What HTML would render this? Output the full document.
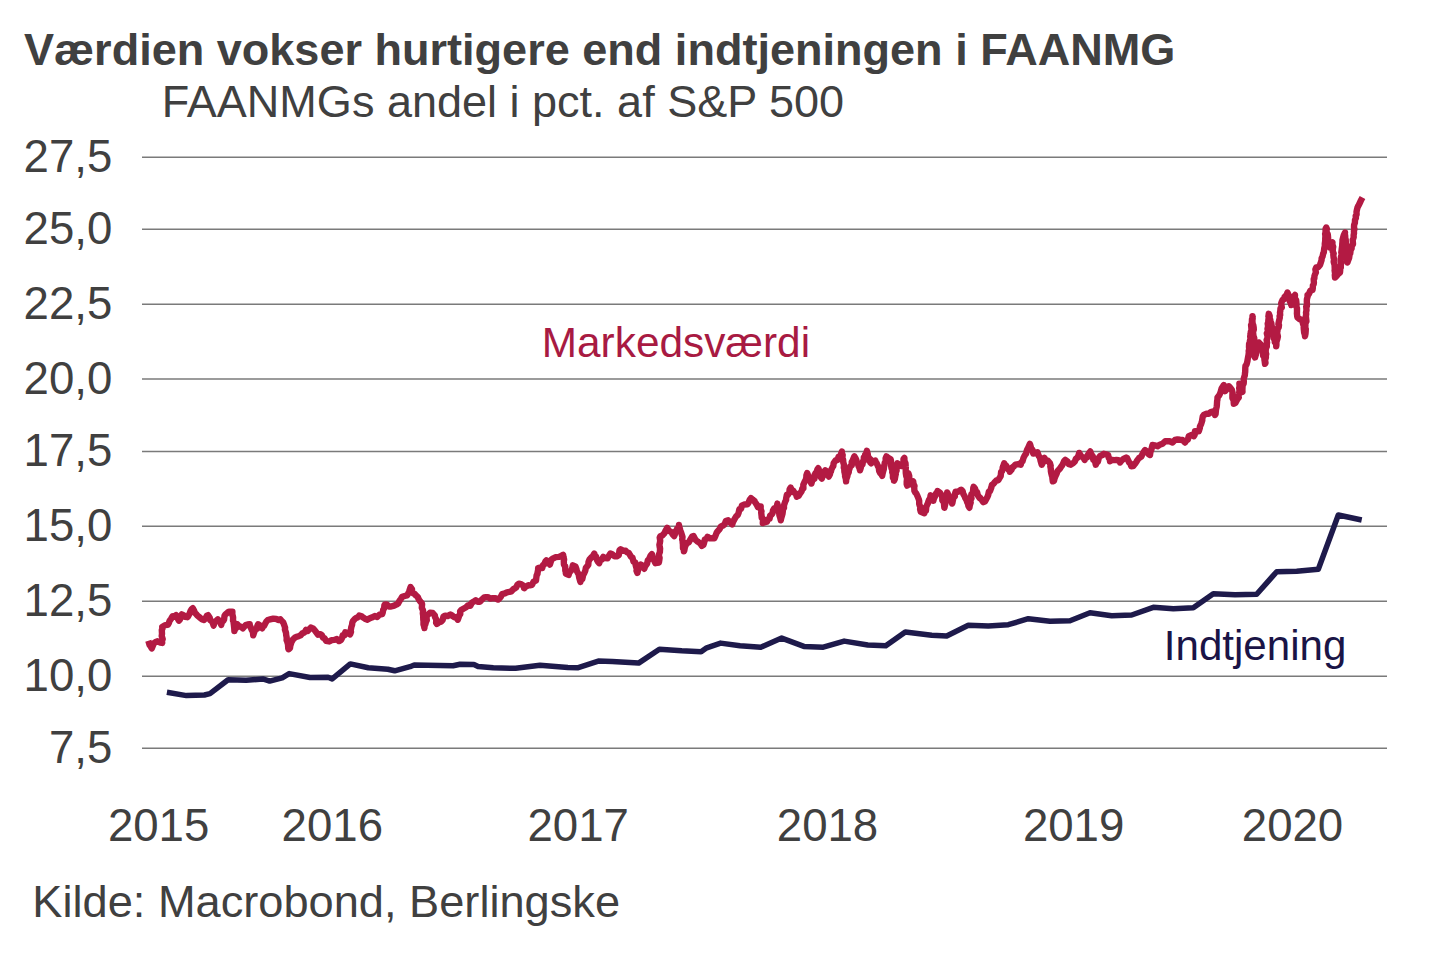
<!DOCTYPE html>
<html><head><meta charset="utf-8"><style>
html,body{margin:0;padding:0;background:#fff;}
svg{display:block;}
text{font-family:"Liberation Sans", sans-serif;}
</style></head><body>
<svg width="1440" height="960" viewBox="0 0 1440 960">
<rect width="1440" height="960" fill="#ffffff"/>
<text x="24" y="65.1" font-size="45.06" font-weight="bold" fill="#404040">Værdien vokser hurtigere end indtjeningen i FAANMG</text>
<text x="161.8" y="116.8" font-size="45.03" fill="#404040">FAANMGs andel i pct. af S&amp;P 500</text>
<g stroke="#7a7a7a" stroke-width="1.5">
<line x1="142" y1="157.3" x2="1387" y2="157.3" />
<line x1="142" y1="229.3" x2="1387" y2="229.3" />
<line x1="142" y1="304.3" x2="1387" y2="304.3" />
<line x1="142" y1="379.0" x2="1387" y2="379.0" />
<line x1="142" y1="451.5" x2="1387" y2="451.5" />
<line x1="142" y1="526.3" x2="1387" y2="526.3" />
<line x1="142" y1="601.3" x2="1387" y2="601.3" />
<line x1="142" y1="676.3" x2="1387" y2="676.3" />
<line x1="142" y1="748.3" x2="1387" y2="748.3" />
</g>
<g font-size="45.6" fill="#404040">
<text x="112.3" y="171.9" text-anchor="end">27,5</text>
<text x="112.3" y="243.9" text-anchor="end">25,0</text>
<text x="112.3" y="318.9" text-anchor="end">22,5</text>
<text x="112.3" y="393.6" text-anchor="end">20,0</text>
<text x="112.3" y="466.1" text-anchor="end">17,5</text>
<text x="112.3" y="540.9" text-anchor="end">15,0</text>
<text x="112.3" y="615.9" text-anchor="end">12,5</text>
<text x="112.3" y="690.9" text-anchor="end">10,0</text>
<text x="112.3" y="762.9" text-anchor="end">7,5</text>
<text x="158.6" y="841" text-anchor="middle">2015</text>
<text x="332.3" y="841" text-anchor="middle">2016</text>
<text x="578.2" y="841" text-anchor="middle">2017</text>
<text x="827.5" y="841" text-anchor="middle">2018</text>
<text x="1073.6" y="841" text-anchor="middle">2019</text>
<text x="1292.5" y="841" text-anchor="middle">2020</text>
</g>
<text x="32.3" y="916.5" font-size="45.2" fill="#404040">Kilde: Macrobond, Berlingske</text>
<path d="M166.9,692.2 L186.4,695.6 L204.4,695.0 L210.0,693.6 L228.1,679.7 L246.1,680.3 L262.8,678.9 L269.7,681.1 L282.2,677.8 L289.2,673.6 L310.0,677.5 L328.1,677.2 L332.2,678.9 L350.3,663.9 L368.3,667.8 L387.8,669.2 L394.7,670.8 L410.0,666.7 L414.2,665.0 L453.1,665.8 L460.0,664.2 L473.9,664.4 L478.1,666.4 L493.3,667.8 L515.6,668.3 L540.0,665.3 L567.8,667.5 L577.5,667.8 L598.3,661.1 L612.2,661.4 L638.6,663.1 L659.4,649.2 L681.7,650.8 L701.1,651.7 L706.7,647.8 L720.6,643.1 L740.0,645.8 L760.8,647.2 L781.7,638.1 L803.9,646.4 L823.3,647.2 L844.2,641.1 L867.8,645.0 L885.8,645.8 L905.3,631.9 L931.7,635.3 L946.7,636.0 L968.3,625.3 L988.3,626.0 L1008.3,624.7 L1028.3,618.7 L1050.0,621.3 L1070.0,620.7 L1090.0,612.7 L1111.7,615.7 L1131.7,615.0 L1153.3,607.3 L1173.3,608.7 L1193.3,607.7 L1213.3,593.7 L1235.0,594.7 L1256.7,594.3 L1276.7,571.7 L1296.7,571.3 L1318.3,569.3 L1338.3,515.0 L1361.7,520.0" fill="none" stroke="#1e1a4b" stroke-width="5.5" stroke-linejoin="round" stroke-linecap="butt"/>
<path d="M148.3,640.8 L148.8,642.3 L149.6,645.0 L150.8,646.7 L151.8,648.5 L153.0,645.3 L154.1,643.1 L155.3,642.2 L157.2,641.3 L160.2,642.5 L162.2,642.9 L161.9,639.9 L162.7,639.2 L162.1,637.1 L161.7,636.1 L162.0,633.8 L161.8,630.0 L162.5,628.4 L162.2,626.9 L165.1,625.1 L167.8,624.9 L168.8,623.2 L169.6,620.8 L171.2,618.6 L172.5,616.3 L174.4,616.7 L176.1,615.1 L177.1,616.5 L177.8,618.7 L178.9,620.7 L180.0,619.4 L180.8,615.8 L181.7,614.4 L183.9,615.4 L185.1,616.9 L187.2,617.2 L187.9,616.6 L189.7,613.4 L190.5,610.9 L191.9,608.8 L192.8,608.2 L194.1,610.8 L195.0,613.0 L196.5,614.4 L197.6,615.8 L199.7,617.4 L202.3,619.5 L203.9,620.0 L205.5,618.3 L206.9,615.6 L208.1,615.1 L209.7,617.6 L210.1,620.1 L211.6,621.1 L212.5,622.3 L213.6,625.6 L214.6,622.6 L216.7,620.3 L217.8,619.3 L218.7,620.2 L220.5,622.7 L221.2,624.9 L222.0,621.7 L223.3,620.8 L224.1,619.4 L224.5,615.9 L225.4,614.4 L227.5,612.7 L228.9,611.7 L232.4,611.7 L232.3,615.0 L232.6,615.2 L233.1,617.5 L233.0,620.6 L233.4,621.2 L233.8,624.3 L234.2,628.0 L234.3,629.0 L234.4,631.1 L234.9,629.3 L236.6,627.5 L237.2,624.2 L239.4,626.5 L240.8,626.7 L242.8,628.3 L244.7,626.2 L245.8,625.1 L247.6,624.5 L249.7,624.2 L249.9,626.0 L250.7,627.3 L251.7,629.8 L252.9,631.8 L253.2,635.3 L253.7,633.7 L254.7,631.0 L255.3,629.4 L257.0,628.8 L257.3,626.0 L258.1,624.2 L259.7,625.2 L262.2,628.3 L263.1,626.2 L264.1,625.8 L266.0,622.1 L266.3,621.7 L267.8,620.0 L270.1,619.4 L273.3,618.6 L276.1,618.9 L278.2,620.0 L280.3,619.3 L281.5,620.8 L283.3,622.6 L284.4,625.6 L285.1,627.8 L284.9,629.4 L286.0,632.8 L286.2,635.1 L286.6,637.2 L286.7,637.8 L286.6,640.2 L287.2,641.5 L288.0,644.3 L288.2,648.2 L288.6,649.2 L290.0,648.0 L290.3,645.7 L291.4,642.2 L292.9,639.6 L294.8,637.7 L296.9,636.7 L299.2,635.9 L300.6,635.3 L302.5,633.2 L304.5,632.5 L306.0,629.9 L307.8,630.9 L309.1,629.4 L310.8,627.6 L313.0,628.4 L314.8,630.4 L316.4,632.5 L318.1,634.7 L320.5,634.1 L321.9,635.3 L323.0,637.7 L324.3,638.0 L326.1,640.8 L329.2,641.5 L331.7,640.1 L334.2,639.9 L336.8,639.0 L339.0,641.1 L341.1,639.9 L342.2,637.6 L342.7,635.1 L344.4,635.3 L345.3,632.2 L348.2,633.3 L350.1,634.3 L351.0,631.9 L350.7,630.7 L351.3,627.1 L352.1,624.8 L352.3,622.7 L352.9,621.1 L354.9,618.8 L356.0,618.0 L358.0,617.2 L359.2,615.6 L361.7,616.4 L363.4,617.7 L364.9,618.7 L367.5,619.7 L369.3,618.5 L371.7,617.6 L374.8,616.0 L377.2,616.9 L379.6,614.7 L382.1,614.2 L382.7,612.8 L383.2,609.8 L384.1,608.5 L384.4,605.3 L384.9,604.4 L386.7,604.4 L389.0,606.5 L391.1,606.5 L394.2,605.6 L396.7,604.4 L398.0,603.6 L399.5,600.9 L401.0,598.7 L402.2,596.8 L404.7,596.0 L407.1,595.4 L408.4,593.3 L409.2,591.8 L409.5,590.3 L410.6,587.1 L412.0,589.3 L412.0,592.1 L413.3,593.3 L414.6,593.9 L415.8,595.3 L417.7,596.9 L418.9,599.6 L420.7,602.1 L421.7,603.1 L422.1,604.3 L421.8,607.7 L422.9,610.3 L423.1,610.7 L422.8,613.3 L423.4,616.9 L423.2,616.8 L423.3,619.8 L423.5,621.1 L423.5,624.5 L424.1,626.2 L424.4,628.1 L424.7,624.8 L425.3,624.3 L426.3,620.7 L426.8,620.5 L426.5,616.7 L427.2,615.6 L430.0,612.8 L432.7,613.0 L434.9,615.6 L435.0,617.1 L436.3,619.5 L436.1,622.7 L436.9,623.9 L439.4,621.9 L441.1,621.8 L442.7,619.9 L443.4,616.6 L445.3,615.6 L447.5,616.1 L450.4,614.5 L452.2,615.6 L454.4,617.3 L456.3,617.3 L457.8,619.7 L458.9,616.6 L459.0,615.7 L460.3,614.0 L460.1,611.3 L461.2,610.0 L463.4,608.7 L466.1,607.2 L467.8,605.5 L470.3,605.8 L471.8,602.8 L473.8,601.6 L475.8,600.3 L477.7,601.7 L480.0,601.7 L481.8,599.6 L484.2,597.5 L485.8,597.3 L487.8,597.2 L490.5,598.6 L492.5,598.2 L495.3,598.1 L498.1,599.6 L499.1,598.9 L500.8,596.7 L502.2,594.0 L504.9,593.3 L506.9,592.3 L509.2,591.9 L511.5,591.3 L513.2,589.2 L514.7,588.5 L516.2,587.4 L517.3,585.0 L518.9,583.6 L520.3,583.8 L522.8,585.3 L524.4,587.8 L524.2,588.2 L525.7,586.6 L528.2,585.3 L529.7,585.4 L532.0,584.8 L533.6,581.6 L536.0,580.6 L536.3,578.0 L536.6,575.5 L537.5,573.7 L537.4,573.5 L538.2,569.5 L538.1,568.1 L540.0,567.6 L542.2,568.1 L543.1,564.9 L544.3,564.2 L545.4,561.5 L546.4,560.4 L547.9,561.2 L549.9,564.6 L550.9,561.4 L551.7,559.2 L553.3,558.3 L555.8,557.1 L558.9,556.9 L561.0,556.1 L563.1,554.9 L563.6,557.6 L564.1,559.6 L563.8,560.8 L563.9,564.5 L564.7,565.9 L565.2,566.2 L565.3,570.5 L565.8,572.1 L565.8,573.6 L568.6,575.0 L569.5,572.1 L570.6,571.1 L571.5,570.0 L572.4,567.5 L572.8,565.3 L575.6,566.7 L576.5,569.3 L576.5,570.3 L577.5,572.3 L578.7,574.4 L579.2,577.7 L579.9,580.1 L580.4,581.9 L580.7,580.0 L582.3,579.0 L582.9,576.4 L583.2,574.9 L584.2,573.3 L585.3,570.8 L585.9,567.5 L586.6,567.0 L588.3,564.8 L588.5,561.9 L589.4,559.7 L591.2,557.6 L592.8,556.3 L594.3,553.5 L594.8,555.8 L596.0,556.5 L597.0,560.0 L597.7,561.4 L599.2,563.2 L600.3,560.0 L602.1,559.4 L603.3,556.9 L605.2,558.1 L607.5,558.3 L608.9,555.9 L610.3,553.5 L612.2,554.3 L614.6,556.3 L617.2,556.2 L618.8,555.1 L619.5,550.3 L620.7,549.3 L623.6,550.8 L625.6,550.7 L626.7,552.1 L628.8,553.0 L629.8,554.6 L631.1,556.9 L632.5,557.8 L633.5,561.8 L635.3,562.5 L635.7,565.4 L636.4,567.7 L637.0,568.0 L636.5,570.8 L637.4,572.9 L638.2,569.5 L638.9,568.6 L639.8,565.7 L640.8,564.6 L642.9,566.2 L644.3,568.8 L645.4,565.4 L645.7,565.5 L647.1,563.6 L647.8,560.4 L648.9,559.4 L650.4,555.9 L651.9,554.2 L652.9,557.7 L653.6,558.3 L654.1,560.4 L655.4,563.2 L658.9,562.5 L659.4,559.4 L659.6,557.9 L659.0,555.8 L659.0,554.4 L659.9,552.0 L659.9,551.3 L660.1,548.6 L659.8,547.4 L659.4,544.8 L659.9,542.8 L660.2,540.8 L659.7,537.6 L660.3,536.1 L662.0,535.8 L664.4,533.3 L665.2,531.4 L666.5,529.1 L667.2,527.8 L669.1,531.1 L671.4,531.9 L672.6,534.4 L674.2,536.1 L674.9,534.4 L675.4,531.5 L677.0,529.8 L677.1,528.7 L678.7,527.9 L679.0,525.0 L679.2,526.8 L679.7,528.1 L680.3,530.4 L681.0,532.1 L681.8,534.7 L682.5,537.0 L682.2,539.5 L682.6,540.7 L682.7,542.7 L682.9,544.0 L683.0,548.4 L683.8,549.3 L683.9,551.4 L684.3,550.3 L685.0,546.7 L685.9,544.9 L686.7,543.1 L688.8,542.5 L689.7,540.6 L692.1,536.6 L693.6,536.1 L695.0,539.0 L695.9,540.1 L697.8,541.7 L700.3,543.5 L701.9,545.8 L703.4,544.8 L703.9,543.4 L704.9,539.4 L706.6,538.7 L707.5,536.8 L710.0,538.4 L712.4,538.1 L714.4,538.2 L715.4,536.0 L716.6,532.8 L717.2,531.9 L719.0,529.7 L719.6,529.2 L720.9,526.4 L722.5,525.8 L724.6,524.3 L725.8,521.1 L728.1,520.3 L730.2,522.4 L732.2,524.4 L733.0,522.0 L733.8,520.5 L735.3,517.7 L736.4,516.1 L737.7,515.2 L738.6,512.9 L739.4,509.2 L741.0,509.0 L741.9,505.7 L744.2,504.5 L747.5,504.3 L748.8,502.2 L749.6,500.0 L751.0,498.1 L753.1,499.9 L754.4,500.8 L755.1,502.2 L756.7,504.6 L757.9,507.1 L760.7,506.4 L760.6,509.0 L761.5,511.3 L761.2,512.7 L761.6,516.0 L761.7,517.7 L762.5,518.2 L763.0,520.5 L762.8,523.1 L764.5,522.4 L766.9,521.7 L767.9,519.3 L769.6,518.8 L770.1,515.7 L771.9,514.2 L772.5,513.3 L773.0,510.4 L774.3,508.3 L775.8,508.5 L776.9,506.1 L777.4,503.6 L777.6,506.8 L778.7,507.0 L778.2,510.5 L779.0,512.4 L779.3,513.7 L779.4,515.3 L780.2,517.6 L780.8,520.3 L780.9,519.5 L781.4,517.5 L782.5,513.9 L782.6,513.1 L783.1,509.1 L784.0,507.9 L783.9,505.4 L784.0,505.2 L785.0,502.2 L786.1,499.9 L786.1,498.7 L786.9,494.7 L787.9,494.9 L789.4,492.4 L789.6,489.3 L790.6,487.6 L792.0,490.6 L793.3,490.6 L794.1,492.6 L795.8,493.6 L796.8,496.7 L798.6,495.9 L799.6,494.1 L801.7,491.1 L802.3,488.4 L803.4,488.3 L803.3,484.8 L804.1,482.9 L804.4,482.2 L805.6,479.9 L806.3,477.9 L806.4,475.4 L807.2,473.1 L807.9,474.7 L808.4,478.0 L810.0,478.6 L810.1,480.8 L811.4,483.5 L812.3,480.4 L813.6,479.2 L814.5,478.8 L814.4,475.2 L815.7,472.9 L816.5,472.6 L817.4,469.4 L818.3,468.2 L819.2,470.6 L820.1,473.0 L820.0,474.9 L820.9,477.4 L821.8,478.6 L822.5,476.7 L823.2,475.1 L824.2,471.7 L825.3,470.3 L826.9,471.5 L827.5,474.6 L828.8,476.5 L830.0,474.3 L829.9,472.7 L831.0,471.6 L831.1,470.2 L832.6,467.0 L833.3,466.1 L833.6,463.3 L835.5,460.4 L837.8,459.9 L838.5,456.8 L839.9,456.9 L840.7,454.7 L841.9,451.5 L842.1,454.4 L842.7,454.9 L842.3,458.6 L843.1,459.7 L843.2,460.7 L843.3,462.5 L844.0,464.8 L843.8,467.8 L844.2,468.2 L844.4,471.9 L844.7,472.9 L845.3,476.2 L845.1,476.3 L845.9,479.1 L846.1,481.4 L846.2,479.5 L847.4,476.1 L847.6,474.5 L848.8,472.0 L848.9,470.3 L849.8,467.8 L850.4,466.0 L851.8,465.3 L851.7,462.0 L852.5,461.0 L854.0,457.1 L854.4,456.4 L855.5,458.2 L856.4,460.1 L856.4,462.3 L857.7,463.1 L858.8,466.7 L859.3,467.2 L860.0,470.3 L860.7,468.0 L861.2,465.5 L862.5,464.5 L862.8,461.5 L863.9,461.3 L863.8,457.8 L865.3,457.8 L865.1,454.7 L866.1,453.9 L866.9,450.8 L867.7,453.9 L867.9,455.8 L868.7,457.8 L870.1,458.9 L870.1,462.1 L871.1,463.3 L873.1,461.2 L875.3,460.6 L876.0,462.5 L876.8,463.4 L878.3,466.9 L878.8,467.0 L879.1,470.8 L880.1,472.9 L881.4,474.2 L882.2,475.8 L882.5,474.0 L883.2,471.3 L883.8,469.1 L884.0,467.0 L884.7,463.8 L884.7,462.8 L885.8,461.4 L885.6,458.4 L886.4,456.4 L888.1,457.7 L890.6,459.2 L890.9,460.4 L891.2,462.4 L891.1,465.7 L891.5,468.2 L892.6,470.6 L892.2,472.1 L892.9,474.3 L892.9,477.6 L894.2,479.5 L894.0,480.7 L894.8,479.1 L895.4,475.6 L895.8,474.2 L895.4,473.1 L896.6,470.6 L896.5,466.5 L896.7,466.1 L897.5,463.3 L899.4,465.7 L901.7,466.1 L902.0,464.8 L903.5,462.0 L903.5,459.1 L904.4,457.8 L904.4,460.0 L904.5,460.9 L905.5,463.3 L905.7,466.8 L905.8,467.6 L905.7,469.6 L905.8,473.1 L906.2,475.9 L906.7,477.3 L907.1,478.2 L906.7,481.7 L906.7,484.2 L907.2,485.6 L907.5,484.8 L907.8,481.1 L907.4,479.2 L907.5,477.9 L907.9,476.0 L908.3,473.1 L909.2,475.7 L909.3,477.8 L909.0,479.3 L909.6,480.8 L910.4,484.2 L913.2,481.4 L913.5,483.9 L914.5,485.9 L914.2,487.1 L914.4,490.7 L915.3,492.5 L916.3,493.5 L917.5,496.1 L918.8,499.4 L919.2,500.8 L919.2,503.8 L919.8,506.0 L920.6,506.8 L920.1,509.1 L920.8,511.9 L924.3,513.3 L925.1,510.3 L926.0,510.4 L926.2,507.2 L927.3,504.3 L927.8,503.6 L928.3,501.7 L929.1,499.8 L930.1,498.5 L930.6,495.3 L931.9,496.5 L932.4,497.8 L933.3,500.8 L933.9,498.6 L935.3,495.8 L935.9,493.7 L936.3,494.2 L937.5,491.1 L939.7,492.4 L941.7,495.3 L942.3,497.4 L942.3,500.3 L942.8,501.1 L943.9,502.5 L944.2,506.5 L944.4,507.8 L945.2,504.3 L945.2,504.1 L945.6,501.9 L945.6,498.3 L945.9,496.2 L947.1,494.3 L947.2,492.5 L948.4,494.9 L948.6,496.8 L949.6,498.2 L950.5,500.6 L951.4,501.1 L952.1,503.6 L952.4,502.8 L952.8,500.7 L953.6,497.1 L954.9,496.4 L954.8,494.4 L955.6,491.8 L958.2,491.7 L961.1,489.7 L962.6,491.1 L963.4,494.2 L964.7,496.4 L965.3,498.1 L966.5,500.0 L967.3,502.5 L968.0,503.8 L968.4,506.0 L969.4,507.8 L969.9,505.0 L970.7,502.5 L970.2,500.6 L971.5,498.4 L971.1,496.9 L971.4,494.0 L972.5,493.7 L973.0,491.6 L973.3,487.9 L973.6,486.9 L975.0,488.6 L976.1,491.9 L977.1,492.1 L977.8,495.3 L979.6,498.1 L980.2,497.7 L981.4,499.5 L983.3,502.2 L985.0,501.3 L986.4,498.9 L987.5,496.7 L988.2,495.0 L988.9,491.5 L990.0,491.1 L991.2,487.9 L991.9,485.0 L993.1,484.2 L995.0,481.9 L996.4,480.4 L998.3,480.2 L1000.0,477.2 L1000.7,476.1 L1001.1,472.0 L1002.1,471.1 L1002.6,468.9 L1002.7,467.4 L1003.2,466.2 L1004.2,463.3 L1005.0,465.8 L1006.1,465.4 L1008.0,469.0 L1008.6,468.7 L1009.7,471.7 L1011.4,469.9 L1012.5,467.4 L1014.2,466.1 L1015.3,464.7 L1018.5,464.1 L1020.8,464.7 L1021.3,462.2 L1022.5,461.3 L1023.5,457.9 L1024.5,455.9 L1025.0,455.0 L1026.1,453.7 L1026.5,451.6 L1027.3,449.2 L1027.8,448.6 L1028.6,446.8 L1029.9,443.9 L1030.3,445.1 L1031.3,448.8 L1032.3,449.4 L1032.6,451.0 L1033.3,453.6 L1035.7,453.0 L1037.5,452.2 L1038.4,454.9 L1038.7,456.0 L1040.0,457.6 L1040.6,461.0 L1040.9,461.8 L1041.7,464.7 L1042.7,463.1 L1043.5,459.1 L1044.4,457.8 L1046.0,460.6 L1047.9,460.7 L1050.0,463.3 L1050.7,465.8 L1050.3,466.4 L1050.8,468.7 L1050.9,471.4 L1051.2,472.9 L1052.1,476.6 L1052.7,476.3 L1052.4,478.4 L1052.8,481.4 L1054.0,480.8 L1054.6,478.3 L1055.6,475.8 L1056.8,473.3 L1057.3,471.3 L1058.2,470.3 L1059.7,468.9 L1061.1,466.8 L1061.9,465.8 L1063.0,463.8 L1064.3,460.8 L1065.3,459.9 L1067.4,461.3 L1068.9,464.2 L1070.8,464.7 L1073.2,463.1 L1075.0,461.2 L1075.8,458.9 L1077.5,457.6 L1078.4,455.7 L1079.2,452.9 L1080.8,455.6 L1081.9,456.8 L1083.5,457.7 L1084.7,459.9 L1085.7,457.2 L1087.2,457.3 L1087.8,455.2 L1089.1,453.0 L1090.3,451.5 L1091.0,453.7 L1092.3,455.7 L1092.8,456.3 L1093.3,459.8 L1094.7,460.9 L1095.1,461.6 L1095.8,464.7 L1097.1,461.7 L1097.9,461.6 L1099.0,457.3 L1100.0,456.2 L1102.1,455.1 L1103.8,453.8 L1106.1,454.4 L1108.1,455.0 L1108.8,457.9 L1109.8,458.9 L1110.0,461.2 L1112.3,460.0 L1114.4,460.1 L1116.2,460.0 L1118.6,460.3 L1120.0,462.5 L1121.6,460.5 L1124.0,458.6 L1126.2,457.5 L1127.1,458.0 L1128.4,460.8 L1129.0,462.3 L1130.5,463.7 L1131.2,466.2 L1133.1,466.1 L1135.0,463.8 L1136.6,461.5 L1137.2,460.4 L1139.0,458.1 L1140.0,457.5 L1141.4,456.4 L1142.6,453.7 L1144.2,451.2 L1145.0,450.0 L1146.8,451.3 L1148.7,454.2 L1150.0,455.0 L1150.3,452.9 L1150.6,451.1 L1151.3,449.9 L1151.8,447.9 L1152.5,445.0 L1154.7,445.3 L1157.5,446.2 L1159.7,444.8 L1162.5,443.8 L1165.2,441.2 L1167.5,441.2 L1169.7,441.3 L1172.5,442.5 L1175.0,440.0 L1177.5,439.5 L1180.1,439.8 L1182.5,440.0 L1185.0,442.5 L1186.1,440.8 L1187.9,439.4 L1188.8,436.2 L1191.6,435.0 L1193.8,436.2 L1194.7,434.8 L1195.0,431.2 L1198.8,431.2 L1199.9,427.8 L1199.9,426.6 L1201.2,423.8 L1202.3,420.3 L1202.2,419.8 L1202.8,416.2 L1203.8,415.0 L1206.6,413.7 L1208.8,413.8 L1210.9,412.1 L1213.8,411.2 L1215.0,415.0 L1215.6,413.9 L1216.0,409.8 L1216.2,408.7 L1216.7,406.7 L1216.9,404.8 L1217.1,401.1 L1217.4,399.8 L1217.5,397.5 L1219.1,395.5 L1220.0,393.8 L1220.7,391.7 L1221.5,388.7 L1222.4,387.2 L1223.8,385.0 L1223.8,387.0 L1224.6,389.1 L1225.0,391.2 L1226.6,389.6 L1227.9,386.6 L1228.8,386.2 L1230.4,388.0 L1231.9,390.0 L1232.6,392.7 L1232.4,394.3 L1232.4,398.1 L1233.3,399.6 L1233.6,400.3 L1233.8,403.8 L1235.5,402.7 L1236.8,400.2 L1237.5,399.1 L1238.8,397.5 L1238.4,396.3 L1239.1,393.5 L1239.5,390.2 L1239.2,388.0 L1239.6,386.1 L1239.4,383.8 L1240.1,385.1 L1241.0,387.6 L1241.5,390.7 L1242.5,391.9 L1242.4,390.6 L1242.5,387.5 L1242.6,385.5 L1243.7,383.4 L1243.8,381.8 L1243.7,378.9 L1244.3,376.8 L1244.8,375.6 L1245.1,372.0 L1245.2,372.1 L1245.3,367.9 L1245.5,365.8 L1246.2,365.0 L1246.7,364.0 L1247.4,361.2 L1247.6,359.8 L1248.1,357.0 L1248.5,355.1 L1248.8,352.5 L1248.7,351.0 L1249.2,348.9 L1249.0,347.1 L1249.1,343.6 L1250.3,343.1 L1249.9,340.8 L1250.5,339.2 L1250.2,336.5 L1250.6,333.8 L1250.8,331.9 L1251.5,330.7 L1251.3,327.1 L1251.1,325.1 L1251.8,325.1 L1251.8,323.3 L1252.0,319.0 L1252.7,318.5 L1252.5,316.2 L1252.6,319.5 L1252.3,320.1 L1252.6,322.8 L1252.5,323.6 L1253.3,325.2 L1253.7,327.6 L1253.8,329.6 L1253.0,331.8 L1253.4,335.4 L1253.4,337.5 L1254.2,337.7 L1254.4,341.5 L1253.7,343.6 L1254.5,345.4 L1254.8,347.1 L1255.0,348.6 L1254.1,351.9 L1254.9,352.1 L1254.4,356.3 L1255.0,357.5 L1255.8,354.9 L1256.5,352.3 L1256.2,351.0 L1257.2,348.6 L1257.9,346.6 L1258.6,343.7 L1258.8,342.5 L1261.2,345.0 L1261.8,346.7 L1262.0,349.5 L1262.8,351.0 L1263.2,354.5 L1263.1,355.6 L1264.2,356.4 L1264.5,360.2 L1264.7,361.3 L1265.0,363.8 L1265.5,363.0 L1265.1,360.1 L1265.9,357.6 L1265.8,355.5 L1266.2,354.1 L1265.7,352.6 L1265.8,348.5 L1266.3,347.6 L1266.8,346.6 L1266.9,342.6 L1267.1,342.6 L1266.6,340.0 L1267.3,338.7 L1267.6,336.3 L1266.8,333.4 L1267.7,331.9 L1267.8,329.0 L1267.5,328.9 L1268.1,326.1 L1267.7,323.7 L1268.5,321.2 L1268.3,320.6 L1268.8,316.7 L1268.4,316.5 L1268.8,313.8 L1269.7,316.0 L1269.7,318.9 L1270.3,319.8 L1270.3,321.1 L1271.3,323.1 L1271.6,325.6 L1272.1,327.7 L1272.5,330.0 L1272.5,331.1 L1273.3,335.3 L1274.0,335.1 L1274.0,338.8 L1274.7,340.4 L1274.8,342.2 L1276.2,343.0 L1276.2,346.2 L1276.4,345.0 L1276.4,342.2 L1276.8,340.6 L1277.4,338.9 L1277.9,336.5 L1277.1,332.9 L1277.5,330.7 L1277.6,328.3 L1278.7,327.4 L1279.0,325.0 L1278.4,324.1 L1278.9,321.2 L1279.8,317.8 L1279.6,316.1 L1280.2,315.0 L1280.0,312.5 L1280.3,310.9 L1280.5,308.2 L1281.8,307.5 L1281.2,303.4 L1281.9,301.4 L1282.5,300.0 L1284.2,299.2 L1284.5,297.1 L1286.5,295.1 L1287.5,292.5 L1288.6,295.0 L1288.4,295.5 L1289.8,299.4 L1289.8,301.3 L1290.9,303.2 L1291.2,305.0 L1291.8,302.0 L1292.3,300.4 L1293.1,299.0 L1293.9,296.3 L1295.0,295.0 L1294.7,297.5 L1295.1,299.7 L1296.1,299.9 L1296.4,302.5 L1296.5,306.2 L1296.3,306.3 L1297.0,308.3 L1297.0,312.3 L1296.9,313.3 L1297.2,316.3 L1297.5,317.5 L1299.6,319.1 L1302.5,320.0 L1302.4,321.3 L1303.2,324.6 L1303.8,325.2 L1303.7,327.5 L1303.8,329.2 L1304.2,333.0 L1304.7,333.3 L1305.0,336.2 L1305.5,333.7 L1305.7,331.1 L1305.8,328.9 L1305.2,328.4 L1305.4,325.8 L1305.4,323.2 L1306.4,321.4 L1306.4,321.0 L1305.9,316.6 L1305.8,316.6 L1306.2,314.1 L1306.0,312.7 L1306.5,310.2 L1306.2,306.4 L1306.9,306.2 L1306.9,302.4 L1306.8,302.3 L1306.9,299.3 L1307.7,296.2 L1307.5,295.0 L1308.9,293.9 L1310.4,290.6 L1312.5,290.0 L1312.8,288.2 L1312.9,285.3 L1313.7,284.2 L1313.9,282.6 L1313.7,279.0 L1314.4,278.3 L1314.4,276.3 L1315.0,274.4 L1315.9,272.5 L1315.4,269.5 L1316.2,267.5 L1318.1,267.3 L1320.0,265.0 L1320.4,263.9 L1321.6,260.0 L1321.6,258.4 L1322.6,256.3 L1323.2,253.3 L1323.8,252.5 L1324.0,250.3 L1324.4,247.3 L1324.8,247.1 L1324.8,243.7 L1325.1,241.8 L1325.4,238.9 L1325.2,239.1 L1325.4,235.9 L1325.1,233.8 L1325.5,232.9 L1325.6,228.8 L1326.2,227.5 L1326.9,228.9 L1326.5,230.3 L1327.0,234.0 L1327.8,234.2 L1328.1,237.7 L1328.1,240.0 L1329.1,242.5 L1328.8,242.3 L1329.6,245.5 L1330.0,247.5 L1330.9,244.4 L1332.5,242.5 L1332.3,244.3 L1333.2,246.9 L1333.0,247.8 L1332.7,251.4 L1333.7,253.6 L1333.3,254.6 L1333.6,257.8 L1334.1,258.7 L1333.7,261.7 L1333.8,262.4 L1334.6,265.0 L1334.7,268.0 L1334.8,270.1 L1334.6,270.2 L1335.2,274.6 L1334.8,274.8 L1335.0,277.5 L1336.5,276.2 L1337.9,274.2 L1340.0,272.5 L1340.2,270.3 L1339.9,267.2 L1340.8,267.6 L1340.8,265.5 L1341.2,263.1 L1340.5,261.3 L1340.9,258.6 L1341.0,256.7 L1341.8,254.3 L1341.3,252.5 L1341.6,250.2 L1341.7,249.3 L1342.2,245.6 L1342.3,243.1 L1342.4,243.2 L1342.5,240.0 L1343.3,236.9 L1343.8,235.1 L1345.0,232.5 L1344.8,233.5 L1345.2,236.0 L1345.2,237.9 L1345.7,239.4 L1345.9,243.4 L1346.2,244.7 L1346.4,245.7 L1346.4,248.4 L1346.5,250.8 L1346.4,252.0 L1346.8,253.8 L1347.1,256.2 L1347.0,257.2 L1347.1,261.4 L1347.5,262.5 L1348.0,260.7 L1349.1,258.1 L1349.4,256.1 L1349.3,253.8 L1350.2,253.7 L1350.7,249.7 L1351.6,248.7 L1351.7,245.9 L1352.5,245.0 L1353.0,244.1 L1352.7,239.9 L1353.3,238.4 L1353.7,237.0 L1353.6,235.4 L1354.0,233.1 L1353.9,231.1 L1354.4,229.1 L1354.0,227.3 L1354.1,225.1 L1354.9,222.8 L1355.0,220.0 L1355.9,217.9 L1355.7,216.0 L1356.6,214.5 L1356.5,211.9 L1357.0,209.5 L1357.5,207.5 L1358.5,205.6 L1360.0,202.5 L1361.3,199.7 L1362.5,197.5" fill="none" stroke="#b31a43" stroke-width="6.4" stroke-linejoin="round" stroke-linecap="butt"/>
<text x="541.8" y="356.7" font-size="42.35" fill="#a81a42">Markedsværdi</text>
<text x="1163.8" y="660.1" font-size="42.1" fill="#1a1446">Indtjening</text>
</svg>
</body></html>
